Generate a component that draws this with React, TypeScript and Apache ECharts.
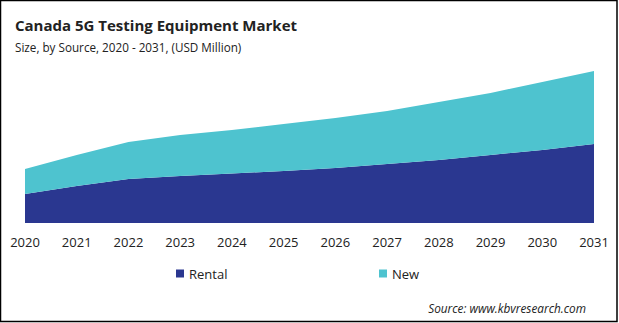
import React, { useEffect, useRef } from "react";
import * as echarts from "echarts";

const years = ["2020","2021","2022","2023","2024","2025","2026","2027","2028","2029","2030","2031"];
const rental = [29, 37, 44, 47, 49.5, 52, 55, 59, 63, 68, 73, 79];
const newEq = [25, 31, 37, 41, 43.5, 47, 50, 53, 58, 62, 68, 73];

const FONT = "'Open Sans', 'Noto Sans', sans-serif";

export default function App() {
  const ref = useRef<HTMLDivElement>(null);
  useEffect(() => {
    const chart = echarts.init(ref.current!, null, { renderer: "svg" });
    chart.setOption({
      animation: false,
      backgroundColor: "#fff",
      title: [
        { text: "Canada 5G Testing Equipment Market", left: 10, top: 12, textStyle: { fontFamily: FONT, fontSize: 15, fontWeight: "bold", color: "#222" } },
        { text: "Size, by Source, 2020 - 2031, (USD Million)", left: 10, top: 36, textStyle: { fontFamily: FONT, fontSize: 11.7, fontWeight: "normal", color: "#222" } },
        { text: "Source: www.kbvresearch.com", right: 28, top: 297, textStyle: { fontFamily: FONT, fontSize: 11.8, fontStyle: "italic", fontWeight: "normal", color: "#222" } },
      ],
      legend: [
        { data: ["Rental"], left: 171, top: 262, icon: "rect", itemWidth: 8, itemHeight: 8, itemGap: 4, textStyle: { fontFamily: FONT, fontSize: 13, color: "#222" } },
        { data: ["New"], left: 374, top: 262, icon: "rect", itemWidth: 8, itemHeight: 8, itemGap: 4, textStyle: { fontFamily: FONT, fontSize: 13, color: "#222" } },
      ],
      grid: { left: 25, right: 25, top: 63, bottom: 100 },
      xAxis: {
        type: "category",
        data: years,
        boundaryGap: false,
        axisLine: { show: false },
        axisTick: { show: false },
        axisLabel: { fontFamily: FONT, fontSize: 13, color: "#222", margin: 12 },
      },
      yAxis: { type: "value", min: 0, max: 160, show: false, splitLine: { show: false } },
      series: [
        { name: "Rental", type: "line", stack: "t", data: rental, symbol: "none", lineStyle: { width: 0 }, areaStyle: { color: "#2a3790", opacity: 1 }, itemStyle: { color: "#2a3790" } },
        { name: "New", type: "line", stack: "t", data: newEq, symbol: "none", lineStyle: { width: 0 }, areaStyle: { color: "#4ec3cf", opacity: 1 }, itemStyle: { color: "#4ec3cf" } },
      ],
      graphic: [
        { type: "rect", shape: { x: 0.5, y: 0.5, width: 616.5, height: 321 }, style: { fill: "none", stroke: "#000", lineWidth: 1.5 }, silent: true },
      ],
    });
    return () => chart.dispose();
  }, []);
  return <div ref={ref} style={{ position: "absolute", left: 0, top: 0, width: 619, height: 323 }} />;
}
